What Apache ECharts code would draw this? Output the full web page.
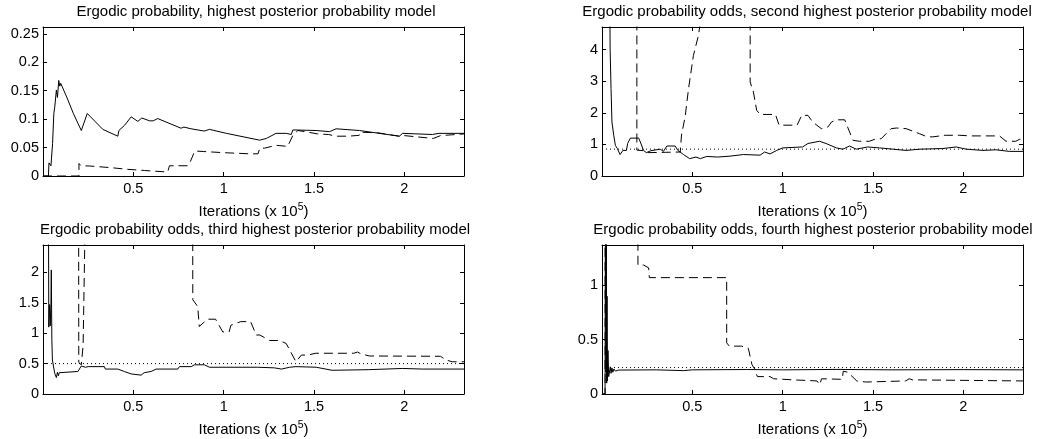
<!DOCTYPE html>
<html>
<head>
<meta charset="utf-8">
<script src="https://cdn.jsdelivr.net/npm/echarts@6/dist/echarts.min.js"></script>
<style>
  html, body { margin: 0; padding: 0; background: #fff; }
  #main { width: 1041px; height: 439px; }
</style>
</head>
<body>
<div id="main"></div>
<script>
// iterations in units of 1e5
const X_MAX = 2.33;

const titles = [
  'Ergodic probability, highest posterior probability model',
  'Ergodic probability odds, second highest posterior probability model',
  'Ergodic probability odds, third highest posterior probability model',
  'Ergodic probability odds, fourth highest posterior probability model'
];
const yMax = [0.262, 4.72, 2.45, 1.37];
const yStep = [0.05, 1, 0.5, 0.5];
const refLevel = [null, 0.85, 0.5, 0.243];

// panel 1 : ergodic probability
const p1Solid = [[0,0],[0.03,0],[0.033,0.023],[0.04,0.022],[0.044,0.018],[0.053,0.057],[0.06,0.11],[0.065,0.121],
  [0.074,0.151],[0.08,0.138],[0.087,0.168],[0.093,0.158],[0.098,0.163],[0.131,0.139],[0.168,0.11],[0.212,0.08],
  [0.245,0.11],[0.331,0.082],[0.335,0.085],[0.414,0.07],[0.42,0.08],[0.451,0.089],[0.46,0.087],[0.488,0.104],
  [0.525,0.096],[0.547,0.102],[0.59,0.097],[0.61,0.097],[0.635,0.101],[0.764,0.084],[0.78,0.086],[0.82,0.083],
  [0.893,0.079],[0.921,0.082],[1.015,0.075],[1.199,0.063],[1.236,0.066],[1.29,0.075],[1.346,0.075],[1.374,0.073],
  [1.383,0.081],[1.512,0.08],[1.586,0.078],[1.622,0.083],[1.751,0.08],[1.972,0.07],[1.99,0.075],[2.155,0.073],
  [2.192,0.075],[2.33,0.075]];
const p1Dash = [[0,0],[0.199,0],[0.199,0.022],[0.21,0.018],[0.258,0.0176],[0.378,0.0146],[0.47,0.0117],[0.562,0.0097],
  [0.69,0.007],[0.70,0.018],[0.80,0.018],[0.815,0.025],[0.84,0.044],[0.89,0.043],[1.0,0.041],[1.144,0.039],
  [1.19,0.039],[1.20,0.049],[1.227,0.049],[1.29,0.054],[1.354,0.052],[1.36,0.055],[1.383,0.0715],[1.41,0.08],
  [1.45,0.078],[1.52,0.074],[1.58,0.073],[1.62,0.07],[1.69,0.07],[1.75,0.0715],[1.755,0.077],[1.85,0.076],
  [1.972,0.07],[2.0,0.071],[2.16,0.066],[2.2,0.071],[2.33,0.074]];

// panel 2 : odds, second model
const p2Solid = [[0.038,10],[0.045,4.0],[0.05,2.77],[0.055,1.71],[0.065,1.29],[0.074,0.97],[0.085,0.87],[0.10,0.68],
  [0.116,0.81],[0.135,0.81],[0.142,1.03],[0.157,1.2],[0.203,1.2],[0.212,1.08],[0.23,0.81],[0.245,0.74],[0.27,0.8],
  [0.322,0.85],[0.34,0.78],[0.359,0.95],[0.405,0.95],[0.42,0.81],[0.451,0.68],[0.485,0.55],[0.52,0.6],[0.545,0.55],
  [0.58,0.62],[0.64,0.6],[0.709,0.63],[0.783,0.68],[0.875,0.66],[0.9,0.76],[0.93,0.7],[0.967,0.81],[1.0,0.89],
  [1.11,0.92],[1.14,1.03],[1.204,1.1],[1.24,1.03],[1.297,0.89],[1.333,0.85],[1.37,0.95],[1.407,0.85],[1.47,0.92],
  [1.536,0.89],[1.61,0.85],[1.683,0.81],[1.76,0.85],[1.886,0.87],[1.96,0.92],[2.015,0.85],[2.107,0.81],
  [2.18,0.83],[2.254,0.78],[2.33,0.78]];
const p2Dash = [[0,10],[0.193,10],[0.193,0.82],[0.23,0.8],[0.25,0.74],[0.35,0.75],[0.433,0.76],[0.44,1.3],
  [0.46,1.87],[0.479,2.77],[0.506,3.82],[0.534,4.46],[0.56,5.5],[0.75,10],[0.82,10],[0.82,2.98],[0.838,2.66],
  [0.856,2.08],[0.875,1.95],[0.96,1.95],[0.98,1.61],[1.08,1.61],[1.105,1.92],[1.14,1.92],[1.166,1.71],
  [1.214,1.5],[1.25,1.55],[1.27,1.71],[1.297,1.78],[1.343,1.78],[1.389,1.13],[1.425,1.1],[1.48,1.1],
  [1.518,1.18],[1.545,1.18],[1.6,1.5],[1.63,1.52],[1.683,1.5],[1.757,1.34],[1.8,1.24],[1.83,1.24],[1.9,1.29],
  [1.98,1.29],[2.04,1.27],[2.2,1.27],[2.236,1.1],[2.29,1.1],[2.31,1.16],[2.33,1.16]];

// panel 3 : odds, third model
const p3Solid = [[0.028,6],[0.032,1.1],[0.036,1.47],[0.04,1.12],[0.044,1.5],[0.046,2.04],[0.049,0.9],[0.052,0.56],
  [0.065,0.34],[0.074,0.27],[0.08,0.36],[0.085,0.3],[0.09,0.35],[0.1,0.37],[0.193,0.37],[0.212,0.46],[0.22,0.48],
  [0.235,0.44],[0.25,0.45],[0.34,0.45],[0.345,0.41],[0.414,0.41],[0.45,0.37],[0.488,0.33],[0.543,0.31],
  [0.56,0.35],[0.598,0.37],[0.626,0.41],[0.746,0.41],[0.755,0.45],[0.82,0.45],[0.838,0.48],[0.893,0.48],
  [0.921,0.44],[1.188,0.44],[1.28,0.43],[1.32,0.41],[1.365,0.44],[1.4,0.45],[1.512,0.44],[1.6,0.39],[1.8,0.4],
  [1.99,0.42],[2.1,0.41],[2.33,0.41]];
const p3Dash = [[0.195,10],[0.198,0.52],[0.212,0.48],[0.222,0.8],[0.232,2.6],[0.236,10],[0.826,10],[0.829,1.55],
  [0.856,1.44],[0.865,1.11],[0.875,1.13],[0.91,1.23],[0.955,1.23],[0.995,1.02],[1.03,1.02],[1.04,1.13],
  [1.094,1.19],[1.149,1.19],[1.18,0.97],[1.2,0.97],[1.254,0.88],[1.31,0.88],[1.346,0.83],[1.4,0.53],[1.43,0.64],
  [1.465,0.64],[1.51,0.67],[1.72,0.67],[1.74,0.69],[1.76,0.66],[1.807,0.625],[2.2,0.62],[2.23,0.56],
  [2.265,0.53],[2.33,0.53]];

// panel 4 : odds, fourth model
const p4Solid = [[0,0],[0.017,0],[0.019,2],[0.022,0.2],[0.024,1.5],[0.026,0.1],[0.028,0.9],[0.03,0.12],[0.033,0.4],
  [0.037,0.16],[0.046,0.25],[0.05,0.19],[0.055,0.24],[0.06,0.2],[0.066,0.23],[0.075,0.21],[0.09,0.22],
  [0.3,0.222],[0.45,0.215],[0.5,0.222],[0.8,0.225],[1.0,0.222],[1.3,0.226],[1.6,0.222],[2.0,0.224],[2.33,0.222]];
const p4Dash = [[0,0],[0.017,0],[0.018,10],[0.195,10],[0.199,1.186],[0.23,1.186],[0.258,1.16],[0.262,1.07],
  [0.69,1.07],[0.69,0.47],[0.705,0.44],[0.773,0.44],[0.81,0.42],[0.83,0.27],[0.845,0.23],[0.86,0.16],[0.93,0.16],
  [0.95,0.14],[1.06,0.13],[1.19,0.12],[1.205,0.085],[1.215,0.14],[1.33,0.135],[1.335,0.21],[1.36,0.2],
  [1.41,0.12],[1.46,0.11],[1.68,0.12],[1.7,0.14],[1.72,0.13],[2.33,0.12]];

const solids = [p1Solid, p2Solid, p3Solid, p4Solid];
const dashes = [p1Dash, p2Dash, p3Dash, p4Dash];

const FONT = 'Liberation Sans';
const gridPos = [[43, 27], [602, 27], [43, 245], [602, 245]];
const titlePos = [[256, 4], [807, 4], [255, 222], [813, 222]];

const grid = [], xAxis = [], yAxis = [], series = [], title = [];
const line = { lineStyle: { color: '#000', width: 1 } };
const tick = { inside: true, length: 4, lineStyle: { color: '#000' } };

for (let i = 0; i < 4; i++) {
  grid.push({ left: gridPos[i][0], top: gridPos[i][1], width: 421, height: 149 });
  title.push({
    text: titles[i], left: titlePos[i][0], top: titlePos[i][1], textAlign: 'center', padding: 0,
    textStyle: { fontFamily: FONT, fontSize: 15, fontWeight: 'normal', color: '#000' }
  });
  const xBase = { type: 'value', gridIndex: i, min: 0, max: X_MAX, interval: 0.5,
    splitLine: { show: false }, axisLine: { onZero: false, ...line }, axisTick: tick };
  xAxis.push({ ...xBase, position: 'bottom',
    name: '{n|Iterations (x 10}{s|5}{n|)}', nameLocation: 'middle', nameGap: 26,
    nameTextStyle: { rich: {
      n: { fontFamily: FONT, fontSize: 15, color: '#000' },
      s: { fontFamily: FONT, fontSize: 10.5, color: '#000', padding: [0, 0, 8, 0] }
    } },
    axisLabel: { margin: 5, showMinLabel: false, showMaxLabel: false,
      fontFamily: FONT, fontSize: 14.5, color: '#000' } });
  xAxis.push({ ...xBase, position: 'top', axisLabel: { show: false } });

  const yBase = { type: 'value', gridIndex: i, min: 0, max: yMax[i], interval: yStep[i],
    splitLine: { show: false }, axisLine: { onZero: false, ...line }, axisTick: tick };
  yAxis.push({ ...yBase, position: 'left',
    axisLabel: { margin: 4, showMaxLabel: false, fontFamily: FONT, fontSize: 14.5, color: '#000' } });
  yAxis.push({ ...yBase, position: 'right', axisLabel: { show: false } });

  const common = { type: 'line', xAxisIndex: 2 * i, yAxisIndex: 2 * i, showSymbol: false,
    symbol: 'none', silent: true, animation: false };
  series.push({ ...common, data: solids[i], lineStyle: { color: '#000', width: 1 } });
  series.push({ ...common, data: dashes[i], lineStyle: { color: '#000', width: 1, type: [9, 5] } });
  if (refLevel[i] !== null) {
    series.push({ ...common, data: [[0, refLevel[i]], [X_MAX, refLevel[i]]],
      lineStyle: { color: '#000', width: 1, type: [1, 3] } });
  }
}

const chart = echarts.init(document.getElementById('main'), null, { renderer: 'canvas' });
chart.setOption({ backgroundColor: '#fff', animation: false, title, grid, xAxis, yAxis, series });
</script>
</body>
</html>
